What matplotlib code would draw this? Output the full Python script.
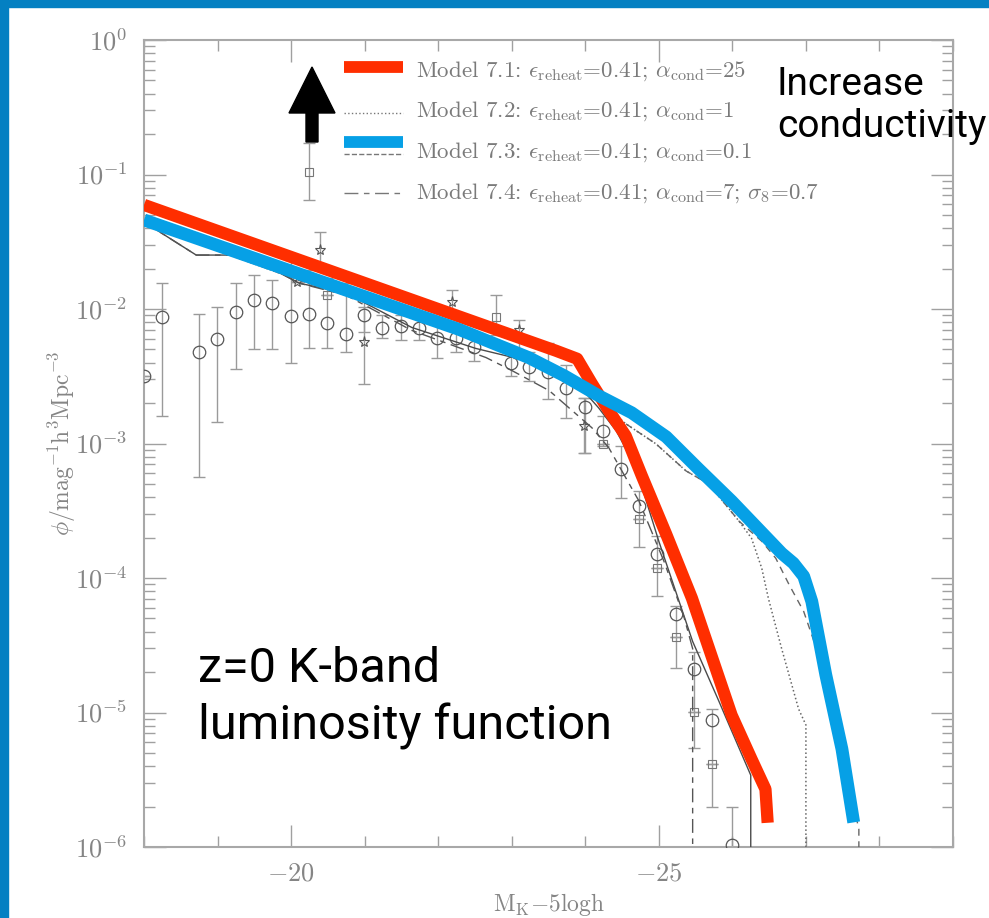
import numpy as np
import matplotlib
matplotlib.use("Agg")
import matplotlib.pyplot as plt
from matplotlib.ticker import FixedLocator, MultipleLocator, LogLocator, NullFormatter, FixedFormatter
from matplotlib.patches import FancyArrow, Rectangle

plt.rcParams['mathtext.fontset'] = 'cm'

# ---------------- data (M_K - 5logh, log10 phi) ----------------
red_mag = [-18.00, -23.60, -23.89, -24.09, -24.32, -24.55, -24.77, -25.10, -25.45, -25.99, -26.26, -26.45, -26.48]
red_logphi = [-1.226, -2.31, -2.37, -2.555, -2.756, -2.943, -3.242, -3.674, -4.15, -5.02, -5.346, -5.57, -5.82]

blue_mag = [-18.00, -22.28, -23.23, -23.71, -24.18, -24.63, -25.10, -25.54, -25.99, -26.67, -26.83, -26.97, -27.08, -27.27, -27.49, -27.65]
blue_logphi = [-1.338, -2.151, -2.361, -2.495, -2.644, -2.771, -2.950, -3.189, -3.428, -3.816, -3.890, -3.987, -4.174, -4.719, -5.272, -5.817]

m71_mag = [-18.00, -18.71, -19.39, -20.11, -20.75, -21.64, -22.51, -23.19, -23.64, -24.01, -24.18, -24.42, -24.69, -25.00, -25.23, -25.46, -25.82, -26.25, -26.25]
m71_logphi = [-1.353, -1.599, -1.599, -1.808, -1.883, -2.137, -2.293, -2.383, -2.510, -2.629, -2.734, -2.905, -3.181, -3.727, -4.100, -4.472, -4.920, -5.466, -7.0]

m74_mag = [-18.00, -18.71, -19.39, -20.11, -20.75, -21.64, -22.65, -23.00, -23.51, -24.09, -24.32, -24.73, -25.07, -25.34, -25.46, -25.46]
m74_logphi = [-1.353, -1.599, -1.599, -1.808, -1.898, -2.159, -2.361, -2.457, -2.607, -2.883, -3.032, -3.428, -3.876, -4.286, -4.525, -7.0]

m72_mag = [-18.00, -20.11, -21.47, -22.83, -23.64, -24.18, -24.55, -24.96, -25.37, -25.68, -26.09, -26.26, -26.40, -26.49, -26.67, -26.90, -27.00, -27.00]
m72_logphi = [-1.368, -1.786, -2.024, -2.286, -2.495, -2.681, -2.853, -3.002, -3.204, -3.301, -3.577, -3.704, -3.928, -4.152, -4.525, -4.973, -5.093, -7.0]

m73_mag = [-18.00, -20.11, -21.47, -22.83, -23.64, -24.18, -24.55, -24.96, -25.37, -25.68, -26.09, -26.40, -26.59, -26.77, -26.97, -27.11, -27.27, -27.45, -27.58, -27.72, -27.72]
m73_logphi = [-1.368, -1.786, -2.024, -2.286, -2.495, -2.681, -2.853, -3.002, -3.204, -3.301, -3.577, -3.727, -3.853, -4.048, -4.249, -4.472, -4.771, -5.145, -5.518, -5.869, -7.0]

circ_mag = [-18.00, -18.25, -18.75, -18.99, -19.25, -19.50, -19.74, -20.00, -20.24, -20.49, -20.75, -20.99, -21.24, -21.49,
            -21.74, -21.98, -22.24, -22.49, -22.99, -23.23, -23.49, -23.74, -23.99, -24.24, -24.48, -24.73, -24.97,
            -25.23, -25.48, -25.72, -25.99]
circ_logphi = [-2.495, -2.062, -2.323, -2.226, -2.024, -1.935, -1.957, -2.054, -2.039, -2.107, -2.189, -2.047, -2.144, -2.129,
               -2.144, -2.219, -2.219, -2.286, -2.398, -2.428, -2.472, -2.584, -2.726, -2.905, -3.189, -3.465, -3.823,
               -4.264, -4.674, -5.055, -5.988]
circ_loghi = [-2.495, -1.808, -2.039, -1.987, -1.808, -1.749, -1.786, -1.637, -1.711, -1.771, -1.808, -1.935, -2.047, -2.047,
              -2.032, -2.084, -2.122, -2.196, -2.308, -2.323, -2.256, -2.420, -2.659, -2.793, -3.017, -3.353, -3.689,
              -4.211, -4.547, -4.973, -5.704]
circ_loglo = [-2.495, -2.793, -3.249, -2.838, -2.443, -2.301, -2.301, -2.398, -2.293, -2.293, -2.316, -2.174, -2.219, -2.234,
              -2.234, -2.361, -2.323, -2.383, -2.495, -2.532, -2.666, -2.808, -3.070, -3.017, -3.408, -3.770, -4.137,
              -4.667, -5.264, -5.704, -6.300]

sq_mag = [-20.24, -20.49, -22.79, -24.24, -24.73, -24.97, -25.23, -25.48, -25.72]
sq_logphi = [-0.980, -1.898, -2.062, -3.002, -3.562, -3.928, -4.435, -4.995, -5.384]
sq_loghi = [-0.763, -1.898, -1.898, -3.002, -3.562, -3.928, -4.435, -4.995, -5.384]
sq_loglo = [-1.189, -1.898, -2.196, -3.002, -3.562, -3.928, -4.435, -4.995, -5.384]

star_mag = [-20.08, -20.39, -20.99, -22.19, -23.10, -23.98]
star_logphi = [-1.801, -1.562, -2.249, -1.950, -2.159, -2.868]
star_loghi = [-1.801, -1.428, -1.987, -1.860, -2.084, -2.659]
star_loglo = [-1.801, -1.711, -2.555, -2.047, -2.361, -3.070]

xlim = (-18, -29)
ylim = (1e-6, 1.0)
xtick_vals = [-20, -25]
xtick_labels = [r'$-20$', r'$-25$']
ytick_vals = [1e-6, 1e-5, 1e-4, 1e-3, 1e-2, 1e-1, 1e0]
ytick_labels = [r'$10^{-6}$', r'$10^{-5}$', r'$10^{-4}$', r'$10^{-3}$', r'$10^{-2}$', r'$10^{-1}$', r'$10^{0}$']

legend_labels = [
    r'Model 7.1: $\epsilon_{\rm reheat}$=0.41; $\alpha_{\rm cond}$=25',
    r'Model 7.2: $\epsilon_{\rm reheat}$=0.41; $\alpha_{\rm cond}$=1',
    r'Model 7.3: $\epsilon_{\rm reheat}$=0.41; $\alpha_{\rm cond}$=0.1',
    r'Model 7.4: $\epsilon_{\rm reheat}$=0.41; $\alpha_{\rm cond}$=7; $\sigma_8$=0.7',
]

def p(v):
    return 10.0 ** np.asarray(v)

# ---------------- figure ----------------
W, H = 989, 918
fig = plt.figure(figsize=(W / 100, H / 100), dpi=100)
fig.patch.set_facecolor('white')

L, R, T, B = 144, 953, 40, 847
ax = fig.add_axes([L / W, (H - B) / H, (R - L) / W, (B - T) / H])
ax.set_yscale('log')
ax.set_xlim(*xlim)
ax.set_ylim(*ylim)

gray_line = '#4a4a4a'
ebc = '#9a9a9a'

# error bars
for mags, lp, lo, hi in [(circ_mag, circ_logphi, circ_loglo, circ_loghi),
                         (sq_mag, sq_logphi, sq_loglo, sq_loghi),
                         (star_mag, star_logphi, star_loglo, star_loghi)]:
    y = p(lp)
    yerr = [y - p(lo), p(hi) - y]
    ax.errorbar(mags, y, yerr=yerr, fmt='none', ecolor=ebc, elinewidth=1.0, capsize=4.5, capthick=1.0, zorder=2)

ax.plot(circ_mag, p(circ_logphi), 'o', ms=9, mfc='none', mec='#555555', mew=0.9, zorder=3)
ax.plot(sq_mag, p(sq_logphi), 's', ms=5.5, mfc='none', mec='#777777', mew=0.8, zorder=3)
ax.plot(star_mag, p(star_logphi), '*', ms=8, mfc='none', mec='#555555', mew=0.8, zorder=3)

# thin model lines
ax.plot(m71_mag, p(m71_logphi), '-', color=gray_line, lw=1.0, zorder=4)
ax.plot(m72_mag, p(m72_logphi), ':', color='#666666', lw=1.1, zorder=4)
ax.plot(m73_mag, p(m73_logphi), '--', color='#666666', lw=1.0, dashes=(5, 4), zorder=4)
ax.plot(m74_mag, p(m74_logphi), '-', color='#555555', lw=1.0, dashes=(10, 4, 4, 4), zorder=4)

# thick overlays
ax.plot(red_mag, p(red_logphi), '-', color='#ff2e00', lw=8.8, solid_capstyle='butt', solid_joinstyle='round', zorder=6)
ax.plot(blue_mag, p(blue_logphi), '-', color='#06a0e6', lw=9.2, solid_capstyle='butt', solid_joinstyle='round', zorder=7)

# axes styling
for s in ax.spines.values():
    s.set_color('#a8a8a8')
    s.set_linewidth(1.5)
ax.xaxis.set_major_locator(FixedLocator(xtick_vals))
ax.xaxis.set_major_formatter(FixedFormatter(xtick_labels))
ax.xaxis.set_minor_locator(MultipleLocator(1))
ax.yaxis.set_major_locator(FixedLocator(ytick_vals))
ax.yaxis.set_major_formatter(FixedFormatter(ytick_labels))
ax.yaxis.set_minor_locator(LogLocator(base=10, subs=np.arange(2, 10)))
ax.yaxis.set_minor_formatter(NullFormatter())
ax.tick_params(which='both', direction='in', top=True, right=True, color='#a0a0a0', width=1.0)
ax.tick_params(which='major', length=16, labelsize=19, labelcolor='#858585')
ax.tick_params(which='minor', length=8)
ax.tick_params(axis='x', which='major', pad=10)
ax.tick_params(axis='y', which='major', pad=12)

ax.set_xlabel(r'$\mathrm{M_K{-}5logh}$', fontsize=17, color='#858585', labelpad=3)
ax.set_ylabel(r'$\phi/\mathrm{mag^{-1}h^3Mpc^{-3}}$', fontsize=17, color='#858585', labelpad=-2)

# legend (manual, like the annotated slide)
def ax_xy(px, py):
    return (px - L) / (R - L), (B - py) / (B - T)

handle_specs = [
    dict(py=67, color='#ff2e00', lw=8.5, ls='-'),
    dict(py=113, color='#777777', lw=1.0, ls=':'),
    dict(py=142, color='#06a0e6', lw=8.5, ls='-'),
    dict(py=154, color='#777777', lw=1.0, ls='--'),
    dict(py=193, color='#777777', lw=1.0, ls=(0, (10, 4, 4, 4))),
]
for hs in handle_specs:
    x0, y0 = ax_xy(344, hs['py'])
    x1, _ = ax_xy(403, hs['py'])
    ax.plot([x0, x1], [y0, y0], transform=ax.transAxes, color=hs['color'], lw=hs['lw'],
            ls=hs['ls'], solid_capstyle='butt', clip_on=False, zorder=8)

for lab, by in zip(legend_labels, [77, 117, 158, 199]):
    tx, ty = ax_xy(416, by)
    ax.text(tx, ty, lab, transform=ax.transAxes, fontsize=16.5, family='cmr10', color='#7a7a7a',
            va='baseline', ha='left', zorder=8)

# black arrow
ax_x0, ax_y0 = ax_xy(312, 142)
_, ax_y1 = ax_xy(312, 67)
arrow = FancyArrow(ax_x0, ax_y0, 0, ax_y1 - ax_y0, width=12 / (R - L), head_width=46 / (R - L),
                   head_length=46 / (B - T), length_includes_head=True, transform=ax.transAxes,
                   color='black', zorder=9, clip_on=False)
ax.add_patch(arrow)

# annotations
for txt, px, py, fs in [('Increase', 777, 95, 28), ('conductivity', 777, 137, 28),
                        ('z=0 K-band', 198, 682, 35), ('luminosity function', 198, 739, 35)]:
    tx, ty = ax_xy(px, py)
    ax.text(tx, ty, txt, transform=ax.transAxes, fontsize=fs, family='Roboto', color='black',
            ha='left', va='baseline', zorder=10, clip_on=False)

# slide frame
fig.patches.append(Rectangle((0, 0), 8 / W, 1, transform=fig.transFigure, color='#0480c2', zorder=20))
fig.patches.append(Rectangle((0, 1 - 7 / H), 1, 7 / H, transform=fig.transFigure, color='#0480c2', zorder=20))

fig.savefig('out.png', dpi=100, facecolor='white')
